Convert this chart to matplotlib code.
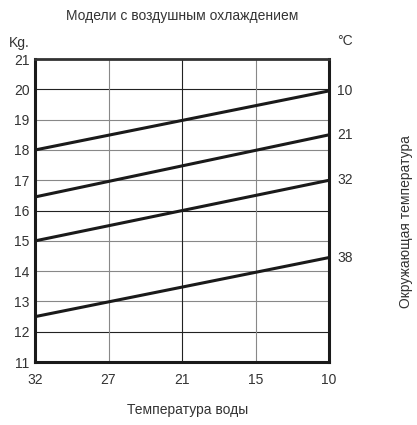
import matplotlib.pyplot as plt

plt.rcParams['font.family'] = ['Liberation Sans', 'DejaVu Sans']

# water temperature categories (equally spaced on the chart)
water_temp = ['32', '27', '21', '15', '10']

# ambient temperature lines: value at first (32) and last (10) water temp
ambient = ['10', '21', '32', '38']
kg_start = [18.0, 16.45, 15.0, 12.5]
kg_end = [19.95, 18.5, 17.0, 14.45]

fig = plt.figure(figsize=(4.17, 4.25), dpi=100)
ax = fig.add_axes([0.084, 0.148, 0.705, 0.713])

xs = [0, len(water_temp) - 1]
for lbl, s, e in zip(ambient, kg_start, kg_end):
    ax.plot(xs, [s, e], color='#1a1a1a', lw=2.2, solid_capstyle='butt', zorder=3)
    ax.annotate(lbl, xy=(xs[1], e), xytext=(6, 0), textcoords='offset points',
                va='center', ha='left', fontsize=10, color='#333333',
                annotation_clip=False)

ax.set_xlim(0, len(water_temp) - 1)
ax.set_ylim(11, 21)
ax.set_xticks(range(len(water_temp)))
ax.set_xticklabels(water_temp)
ax.set_yticks(range(11, 22))

# grid lines, some darker than others
for y in range(12, 21):
    c = '#222222' if y in (12, 16, 20) else '#888888'
    ax.axhline(y, color=c, lw=0.8, zorder=1)
for x in range(1, len(water_temp) - 1):
    c = '#222222' if x == 2 else '#888888'
    ax.axvline(x, color=c, lw=0.8, zorder=1)

for side in ['left', 'bottom', 'right']:
    ax.spines[side].set_linewidth(2.2)
    ax.spines[side].set_color('#1a1a1a')
ax.spines['top'].set_linewidth(2.0)
ax.spines['top'].set_color('#333333')

ax.tick_params(length=0, labelsize=10, labelcolor='#333333')
ax.tick_params(axis='x', pad=8)
ax.tick_params(axis='y', pad=4)

fig.text(0.437, 0.963, 'Модели с воздушным охлаждением', ha='center', va='center',
         fontsize=10, color='#333333')
fig.text(0.045, 0.9, 'Kg.', ha='center', va='center', fontsize=10, color='#333333')
fig.text(0.828, 0.903, '°C', ha='center', va='center', fontsize=10, color='#333333')
fig.text(0.45, 0.035, 'Температура воды', ha='center', va='center',
         fontsize=10, color='#333333')
fig.text(0.974, 0.478, 'Окружающая температура', ha='center', va='center',
         rotation=90, fontsize=10, color='#333333')

plt.savefig('out.png', dpi=100)
